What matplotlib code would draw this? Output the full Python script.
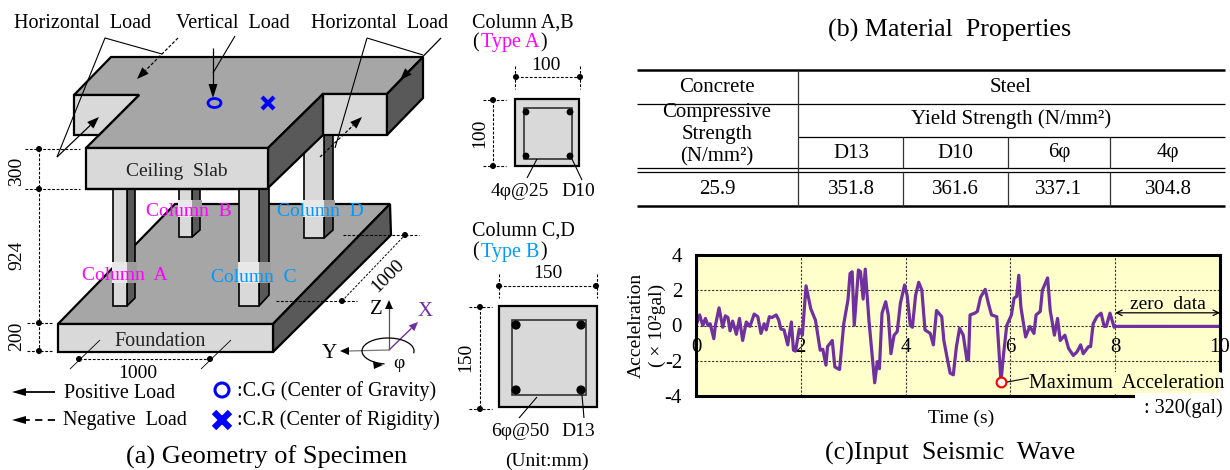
import numpy as np
import matplotlib
matplotlib.use('Agg')
import matplotlib.pyplot as plt
from matplotlib.patches import Polygon, Rectangle, Ellipse, Circle, Arc

plt.rcParams['font.family'] = ['Liberation Serif', 'DejaVu Serif']
plt.rcParams['axes.unicode_minus'] = False

# seismic wave
wave_t = [0, .07, .13, .18, .23, .27, .34, .37, .44, .51, .56, .61, .65, .70, .77, .83, .89, .96, 1.03, 1.11,
          1.18, 1.24, 1.30, 1.34, 1.40, 1.45, 1.53, 1.58, 1.62, 1.68, 1.75, 1.82, 1.86, 1.90, 1.97, 2.03, 2.10,
          2.19, 2.28, 2.37, 2.42, 2.48, 2.51, 2.60, 2.65, 2.74, 2.82, 2.90, 2.94, 2.98, 3.02, 3.10, 3.14, 3.19,
          3.23, 3.30, 3.41, 3.46, 3.50, 3.55, 3.62, 3.67, 3.72, 3.78, 3.84, 3.90, 3.98, 4.03, 4.09, 4.13, 4.19,
          4.25, 4.31, 4.37, 4.47, 4.53, 4.59, 4.69, 4.73, 4.80, 4.85, 4.91, 4.97, 5.03, 5.10, 5.17, 5.20, 5.23,
          5.32, 5.37, 5.43, 5.52, 5.58, 5.64, 5.74, 5.82, 5.87, 5.93, 6.02, 6.07, 6.12, 6.16, 6.20, 6.29, 6.37,
          6.45, 6.49, 6.57, 6.61, 6.71, 6.76, 6.84, 6.90, 6.95, 7.04, 7.11, 7.20, 7.27, 7.34, 7.39, 7.49, 7.53,
          7.58, 7.65, 7.73, 7.79, 7.83, 7.90, 7.98, 8.0, 10.0]
wave_a = [0, .6, 0, .4, 0, .1, -.75, 0, 1.0, -.1, .55, .45, -.3, .25, -.5, .4, -.85, .2, -.05, .65,
          .5, -.45, .1, -.25, .5, .45, .6, .3, -.2, -.25, -1.1, .2, -1.4, -1.45, -.2, -.55, 2.25,
          .95, .3, -1.4, -1.35, -2.25, -1.2, -.85, -2.35, -2.5, .1, 1.45, 2.95, 3.05, 0, 3.15, 3.05, 1.5,
          3.2, .3, -3.25, -2.05, -2.45, .7, 1.35, .6, -1.6, -.55, -.35, 1.25, 2.3, 1.7, 0, -.1, 1.7,
          2.45, 2.0, -.25, -.45, -1.1, .85, .5, -.85, -1.95, -2.7, -2.8, -1.2, -.15, -.55, -1.95, -1.95, .6,
          .7, .8, 1.6, 2.05, 1.25, .6, .5, -3.2, -1.6, 0, .6, 1.55, 1.65, 2.85, 1.05, -.65, -.05,
          -.45, .6, .8, 2.0, 2.7, .85, -.55, .4, -.85, -.55, -1.3, -1.7, -1.5, -1.1, -1.6, -1.2, -1.2,
          .1, .5, .7, -.05, -.05, .7, -.1, -.05, -.05]
peak_t = 5.82
peak_a = -3.2
x_ticks = [0, 2, 4, 6, 8, 10]
y_ticks = [-4, -2, 0, 2, 4]

# material table
bar_names = ['D13', 'D10', '6φ', '4φ']
yield_strength = ['351.8', '361.6', '337.1', '304.8']
concrete_strength = '25.9'

PURPLE = '#7030A0'
LIGHT = '#D9D9D9'
MID = '#A6A6A6'
DARK = '#595959'
MAGENTA = '#FF00FF'
SKY = '#0099FF'

fig = plt.figure(figsize=(12.3, 4.7), dpi=100)

''' (c) wave chart '''
ax = fig.add_axes([696 / 1230, (470 - 396) / 470, 524 / 1230, 141 / 470], facecolor='#FFFFCC')
ax.plot(wave_t, wave_a, color=PURPLE, lw=2.3, solid_joinstyle='round')
ax.plot([peak_t], [peak_a], 'o', ms=7, mfc='white', mec='red', mew=1.5, zorder=5)
ax.set_xlim(0, 10)
ax.set_ylim(-4, 4)
ax.set_xticks(x_ticks)
ax.set_yticks(y_ticks)
ax.grid(True, color='#333333', ls=(0, (2, 1.5)), lw=0.8)
ax.set_axisbelow(True)
ax.tick_params(length=0, labelsize=15, pad=9)
ax.tick_params(axis='y', pad=10, labelsize=15)
ax.spines['bottom'].set_position(('data', 0))
ax.spines['bottom'].set_visible(False)
ax.spines['right'].set_visible(False)
ax.spines['left'].set_linewidth(2.2)
ax.spines['top'].set_linewidth(2.2)
ax.annotate('', xy=(8.0, .72), xytext=(10.0, .72), arrowprops=dict(arrowstyle='<->', lw=0.9, shrinkA=0, shrinkB=0))
ax.text(9.0, 1.2, 'zero  data', ha='center', va='center', fontsize=14)

''' overlay in pixel coordinates '''
ov = fig.add_axes([0, 0, 1, 1], facecolor='none')
ov.set_xlim(0, 1230)
ov.set_ylim(470, 0)
ov.axis('off')


def txt(x, y, s, size=14.5, ha='center', color='black', rot=0, **kw):
    # va center sits a little high for this font, nudge flat text down
    if rot == 0:
        y = y + 2
    ov.text(x, y, s, fontsize=size, ha=ha, va='center', color=color, rotation=rot,
            rotation_mode='anchor', **kw)


def line(pts, lw=1.0, color='black', ls='-', z=3):
    p = np.array(pts)
    ov.plot(p[:, 0], p[:, 1], color=color, lw=lw, ls=ls, zorder=z, solid_capstyle='butt')


def poly(pts, fc, ec='black', lw=1.6, z=2):
    ov.add_patch(Polygon(pts, closed=True, fc=fc, ec=ec, lw=lw, zorder=z, joinstyle='miter'))


def arrow(x0, y0, x1, y1, ls='-', color='black', lw=0.9, hl=12, hw=4.5, z=4):
    d = np.array([x1 - x0, y1 - y0], dtype=float)
    d /= np.hypot(*d)
    n = np.array([-d[1], d[0]])
    tip = np.array([x1, y1])
    base = tip - d * hl
    line([(x0, y0), tuple(base)], lw=lw, color=color, ls=ls, z=z)
    ov.add_patch(Polygon([tip, base + n * hw, base - n * hw], fc=color, ec='none', zorder=z))


def dots(pts, r=3.0):
    for x, y in pts:
        ov.add_patch(Circle((x, y), r, fc='black', ec='none', zorder=5))


def column(x0, x1, x2, top, bottom, side_bottom, gap=None, z=2):
    poly([(x1, top), (x2, top), (x2, side_bottom), (x1, bottom)], DARK, z=z, lw=1.2)
    poly([(x0, top), (x1, top), (x1, bottom), (x0, bottom)], LIGHT, z=z, lw=1.2)
    if gap:
        ov.add_patch(Rectangle((x0 - 1.5, gap[0]), x1 - x0 + 2, gap[1] - gap[0], fc='#E8E8E8', ec='none', zorder=z))
        ov.add_patch(Rectangle((x1, gap[0]), x2 - x1 + 1.5, gap[1] - gap[0], fc='#9C9C9C', ec='none', zorder=z))


DASH = (0, (2.5, 1.5))

# foundation
poly([(58, 324), (175, 204), (390, 204), (273, 324)], MID)
poly([(273, 324), (390, 204), (391, 235), (273, 352)], DARK)
poly([(58, 324), (273, 324), (273, 352), (58, 352)], LIGHT)

# columns, back then front
column(179, 192, 200, 150, 237, 230, gap=(200, 217))
column(304, 324, 333, 130, 238, 230, gap=(200, 217))

# ceiling slab
poly([(111, 57), (423, 57), (387, 94), (323, 94), (268, 148), (86, 148), (139, 95), (74, 95)], MID, z=3)
poly([(74, 95), (139, 95), (99, 135), (74, 135)], LIGHT, z=3)
poly([(323, 94), (387, 94), (387, 135), (323, 135)], LIGHT, z=3)
poly([(387, 94), (423, 57), (423, 98), (387, 135)], DARK, z=3)
poly([(268, 148), (323, 94), (323, 135), (268, 188)], DARK, z=3)
poly([(86, 148), (268, 148), (268, 189), (86, 189)], LIGHT, z=3)
txt(177, 170, 'Ceiling  Slab', 14, color='#222222', zorder=6)

column(113, 127, 135, 189, 306, 298, gap=(262, 283), z=3)
column(239, 259, 269, 189, 306, 295, gap=(262, 283), z=3)
line([(86, 189), (268, 189)], lw=1.6, z=4)

txt(189, 209, 'Column  B', 14, color=MAGENTA, zorder=7)
txt(320, 209, 'Column  D', 14, color=SKY, zorder=7)
txt(125, 274, 'Column  A', 14, color=MAGENTA, zorder=7)
txt(254, 276, 'Column  C', 14, color=SKY, zorder=7)
txt(160, 340, 'Foundation', 14.5, color='#222222', zorder=6)

# top labels and leaders
txt(83, 21, 'Horizontal  Load')
txt(233, 22, 'Vertical  Load')
txt(380, 21, 'Horizontal  Load')
line([(57, 157), (105, 38), (162, 54)], lw=0.8, z=6)
line([(367, 38), (335, 148)], lw=0.8, z=6)
line([(367, 38), (423, 55)], lw=0.8, z=6)
line([(235, 36), (213, 73)], lw=0.8, z=6)
arrow(178, 38, 137, 79, ls=DASH, z=6)
arrow(441, 38, 400, 80, z=6)
arrow(57, 157, 99, 117, z=6)
arrow(320, 157, 362, 117, ls=DASH, z=6)
arrow(213, 48, 213, 98, hl=14, hw=4.5, z=6)
ov.add_patch(Ellipse((214.5, 103), 13, 9, fc='none', ec='#0000FF', lw=2.0, zorder=7))
ov.plot([268], [103], marker='x', ms=9, mew=3, color='#0000FF', zorder=7)

# height dimensions
line([(39, 149), (39, 351)], lw=0.8, ls=DASH, z=6)
for y, x0, x1 in [(149, 25, 80), (189, 25, 80), (323, 27, 52), (351, 27, 52)]:
    line([(x0, y), (x1, y)], lw=0.8, ls=DASH, z=6)
dots([(39, 149), (39, 189), (39, 323), (39, 351)])
txt(17, 171, '300', 14, rot=90)
txt(17, 255, '924', 14, rot=90)
txt(17, 336, '200', 14, rot=90)

# plan dimensions
line([(79, 359), (210, 359)], lw=0.8, ls=DASH, z=6)
line([(70, 369), (100, 340)], lw=0.6, z=6)
line([(201, 369), (231, 340)], lw=0.6, z=6)
dots([(79, 359), (210, 359)])
txt(138, 371, '1000', 14)
line([(342, 301), (405, 235)], lw=0.7, ls=DASH, z=6)
line([(276, 301), (357, 301)], lw=0.8, ls=DASH, z=6)
line([(343, 235), (419, 235)], lw=0.8, ls=DASH, z=6)
dots([(342, 301), (405, 235)])
txt(388, 276, '1000', 14, rot=45)

# axes triad
line([(389, 350), (389, 308)], color='#555555', lw=0.9)
ov.add_patch(Polygon([(389, 300), (385, 309), (393, 309)], fc='black', ec='none', zorder=6))
line([(389, 350), (348, 351)], color='#777777', lw=0.9)
ov.add_patch(Polygon([(340, 351), (349, 347), (349, 355)], fc='black', ec='none', zorder=6))
arrow(389, 350, 418, 322, color=PURPLE, hl=9, hw=4, lw=1.0)
txt(376, 307, 'Z', 15)
txt(329, 352, 'Y', 15)
txt(425, 309, 'X', 15, color=PURPLE)
ov.add_patch(Arc((388, 351), 52, 26, theta1=105, theta2=365, lw=0.9, ec='black', zorder=5))
ov.add_patch(Polygon([(383, 365), (373, 361), (374, 369)], fc='black', ec='none', zorder=6))
txt(399, 362, 'φ', 14)

# legend under the specimen
arrow(55, 392, 12, 392, lw=1.3, hl=14, hw=4)
txt(64, 392, 'Positive Load', ha='left')
arrow(55, 420, 12, 420, ls=(0, (4, 3)), lw=1.3, hl=14, hw=4)
txt(63, 418, 'Negative  Load', ha='left')
ov.add_patch(Circle((222, 390), 7, fc='none', ec='#0000FF', lw=2.2))
ov.plot([222], [420], marker='x', ms=12, mew=4.5, color='#0000FF')
txt(237, 389, ':C.G (Center of Gravity)', ha='left')
txt(237, 418, ':C.R (Center of Rigidity)', ha='left')
txt(267, 455, '(a) Geometry of Specimen', 19)

# column sections
txt(472, 21, 'Column A,B', ha='left')
txt(472, 41, '(', ha='left')
txt(481, 41, 'Type A', ha='left', color=MAGENTA)
txt(540, 41, ')', ha='left')
ov.add_patch(Rectangle((515, 99), 64, 67, fc=LIGHT, ec='black', lw=1.6))
ov.add_patch(Rectangle((524, 108), 48, 51, fc='none', ec='#333333', lw=1.2))
dots([(526, 112), (570, 112), (526, 156), (570, 156)], r=3.4)
line([(516, 77), (580, 77)], lw=0.8, ls=DASH)
line([(515, 66), (515, 89)], lw=0.8, ls=DASH)
line([(580, 66), (580, 89)], lw=0.8, ls=DASH)
dots([(516, 77), (580, 77)])
txt(546, 63, '100', 14)
line([(493, 100), (493, 166)], lw=0.8, ls=DASH)
line([(483, 100), (506, 100)], lw=0.8, ls=DASH)
line([(483, 166), (506, 166)], lw=0.8, ls=DASH)
dots([(493, 100), (493, 166)])
txt(480, 133, '100', 14, rot=90)
line([(537, 159), (527, 178)], lw=0.8)
line([(572, 159), (582, 180)], lw=0.8)
txt(520, 189, '4φ@25', 14)
txt(578, 190, 'D10', 14)

txt(472, 229, 'Column C,D', ha='left')
txt(472, 250, '(', ha='left')
txt(481, 250, 'Type B', ha='left', color=SKY)
txt(540, 250, ')', ha='left')
ov.add_patch(Rectangle((499, 306), 98, 101, fc=LIGHT, ec='black', lw=1.6))
ov.add_patch(Rectangle((512, 320), 74, 75, fc='none', ec='#333333', lw=1.2))
dots([(516, 325), (581, 325), (516, 390), (581, 390)], r=4.6)
line([(499, 286), (596, 286)], lw=0.8, ls=DASH)
line([(499, 274), (499, 298)], lw=0.8, ls=DASH)
line([(597, 274), (597, 298)], lw=0.8, ls=DASH)
dots([(499, 286), (596, 286)])
txt(548, 271, '150', 14)
line([(480, 307), (480, 409)], lw=0.8, ls=DASH)
line([(469, 307), (492, 307)], lw=0.8, ls=DASH)
line([(469, 409), (492, 409)], lw=0.8, ls=DASH)
dots([(480, 307), (480, 409)])
txt(466, 357, '150', 14, rot=90)
line([(537, 397), (519, 418)], lw=0.8)
line([(582, 395), (584, 418)], lw=0.8)
txt(520, 429, '6φ@50', 14)
txt(578, 429, 'D13', 14)
txt(547, 459, '(Unit:mm)', 14)

''' (b) table '''
txt(950, 28, '(b) Material  Properties', 18.7)
col_x = [798, 903, 1008, 1110]
line([(637, 70), (1225, 70)], lw=1.8)
line([(637, 104), (1225, 104)], lw=0.9)
line([(798, 137), (1225, 137)], lw=0.9)
line([(637, 168), (1225, 168)], lw=0.9)
line([(637, 172), (1225, 172)], lw=0.9)
line([(637, 206), (1225, 206)], lw=1.8)
line([(798, 70), (798, 206)], lw=0.9, color='#333333')
for x in col_x[1:]:
    line([(x, 137), (x, 168)], lw=0.9, color='#333333')
    line([(x, 172), (x, 206)], lw=0.9, color='#333333')
txt(717, 85, 'Concrete', 15)
txt(1011, 85, 'Steel', 15)
txt(717, 111, 'Compressive', 15)
txt(717, 133, 'Strength', 15)
txt(717, 155, '(N/mm²)', 15)
txt(1011, 117, 'Yield Strength (N/mm²)', 15)
txt(717, 188, concrete_strength, 15)
cell_x = [851, 955, 1059, 1168]
for x, name, val in zip(cell_x, bar_names, yield_strength):
    txt(x, 151, name, 15)
    txt(x, 188, val, 15)

''' (c) text and frame around the chart '''
line([(696, 396), (1135, 396)], lw=2.2, z=2)
line([(1220, 255), (1220, 372)], lw=2.2, z=2)
ov.add_patch(Rectangle((1029, 372), 191, 21, fc='#FFFFCC', ec='none', zorder=2.5))
ov.add_patch(Rectangle((1135, 393), 95, 12, fc='white', ec='none', zorder=2.5))
line([(1007, 382), (1029, 378)], lw=0.8)
txt(1029, 381, 'Maximum  Acceleration', ha='left', zorder=6)
txt(1223, 406, ': 320(gal)', ha='right', zorder=6)
txt(636, 325, 'Accelelration', 14, rot=90)
txt(657, 325, '( × 10²gal)', 14, rot=90)
txt(961, 416, 'Time (s)', 14)
txt(950, 451, '(c)Input  Seismic  Wave', 18.7)

fig.savefig('out.png', dpi=100)
